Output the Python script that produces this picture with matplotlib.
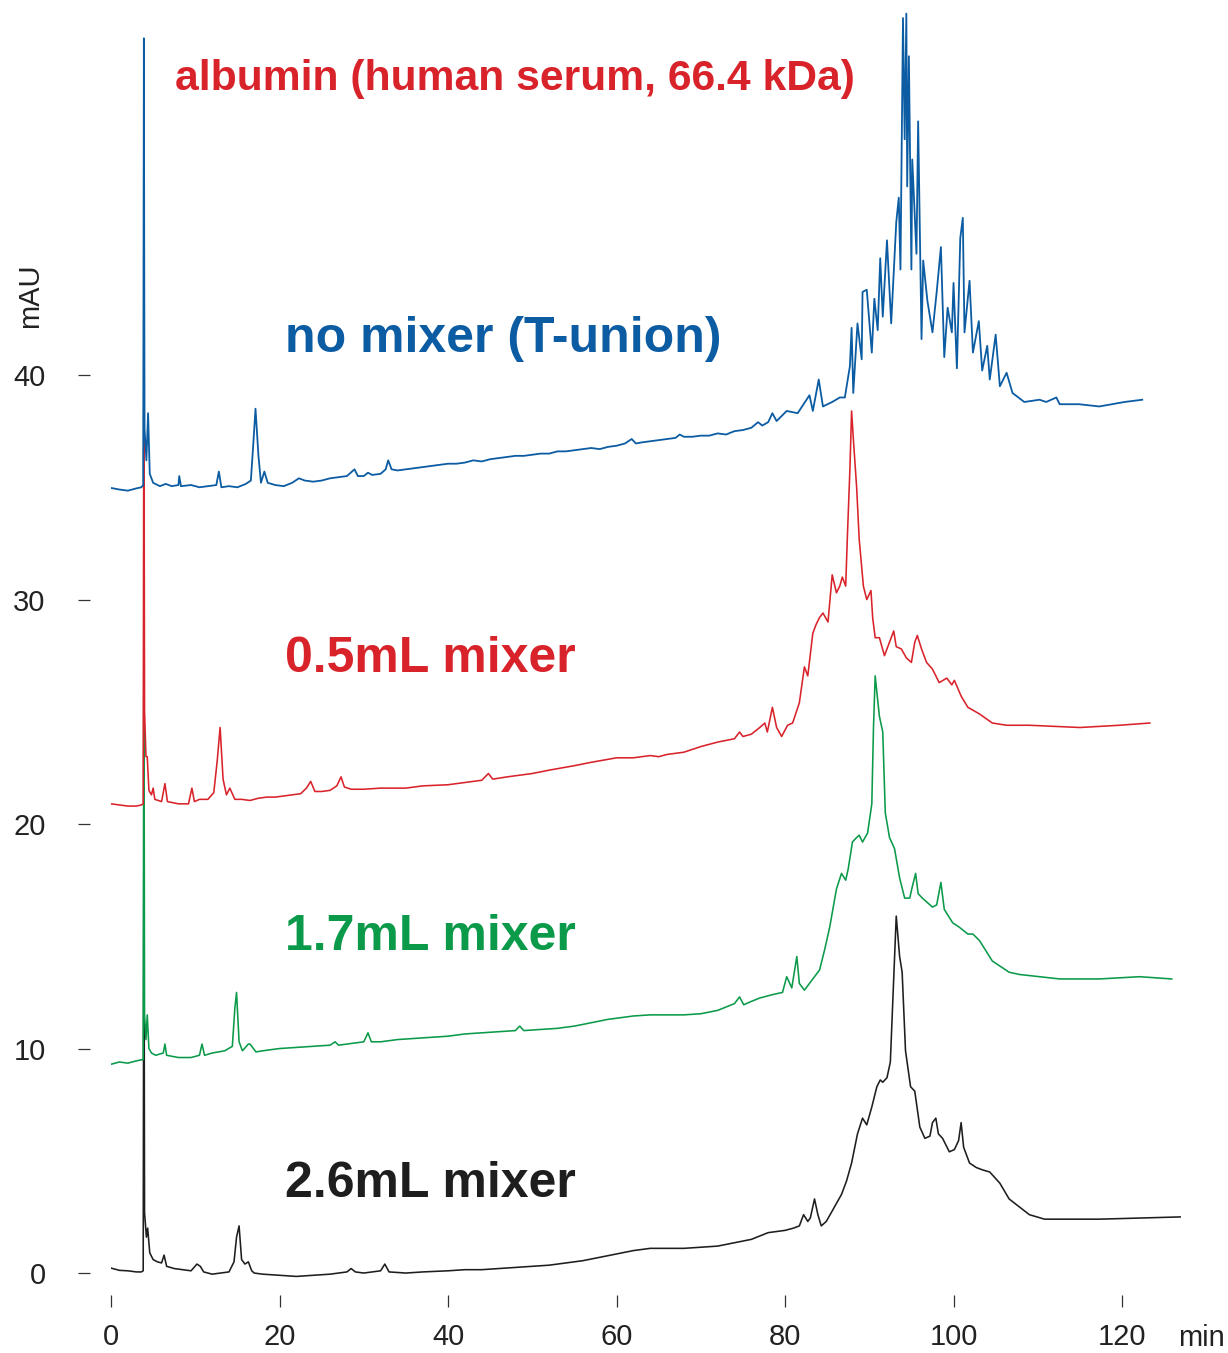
import matplotlib.pyplot as plt

plt.rcParams['font.family'] = ['Liberation Sans', 'DejaVu Sans']

# chromatogram traces (time in min, signal in mAU)
t_none = [0, 1, 2, 3, 3.6, 3.82, 3.9, 3.98, 4.2, 4.4, 4.6, 5.0, 5.8, 6.5, 7.2, 8.0, 8.1, 8.3, 9.5,
          10.5, 11.5, 12.5, 12.8, 13.1, 14, 15, 16.0, 16.6, 16.9, 17.15, 17.5, 17.8, 18.2, 18.6, 19.5,
          20.5, 21.5, 22.3, 23, 24, 25, 26, 27, 28, 28.9, 29.3, 30, 30.5, 31, 32, 32.6, 32.9, 33.3,
          34, 35, 36, 37, 38, 39, 40, 41, 42, 43, 44, 45, 46, 47, 48, 49, 50, 51, 52, 53, 54, 55, 56,
          57, 58, 59, 60, 61, 61.8, 62.3, 63, 64, 65, 66, 67, 67.5, 68, 69, 70, 71, 72, 73, 74, 75,
          76, 76.8, 77.3, 78, 78.5, 79, 79.4, 80.2, 81.5, 82.9, 83.3, 84.0, 84.5, 85.6, 86.5, 87.1,
          87.7, 87.9, 88.1, 88.6, 89.1, 89.2, 89.7, 90.3, 90.6, 91.0, 91.3, 91.6, 92.1, 92.6, 93.2,
          93.5, 93.7, 94.0, 94.2, 94.4, 94.5, 94.7, 95.0, 95.1, 95.6, 95.8, 96.2, 96.4, 96.9, 97.5,
          98.0, 98.5, 98.9, 99.3, 99.8, 100.0, 100.4, 100.8, 101.1, 101.3, 101.9, 102.3, 103.0,
          103.4, 104.0, 104.3, 105.0, 105.5, 106.3, 107.0, 108.4, 110.2, 111.0, 112.2, 112.6,
          114.9, 117.3, 120.3, 122.4]
v_none = [34.97, 34.9, 34.85, 34.95, 35.0, 35.1, 55.0, 37.6, 36.2, 38.3, 35.6, 35.2, 35.05, 35.15,
          35.05, 35.1, 35.5, 35.05, 35.1, 35.0, 35.05, 35.1, 35.7, 35.0, 35.05, 35.0, 35.15, 35.3,
          37.0, 38.5, 36.4, 35.2, 35.7, 35.2, 35.1, 35.05, 35.2, 35.4, 35.3, 35.25, 35.3, 35.4,
          35.45, 35.5, 35.8, 35.5, 35.5, 35.65, 35.55, 35.6, 35.8, 36.2, 35.8, 35.75, 35.8, 35.85,
          35.9, 35.95, 36.0, 36.05, 36.05, 36.1, 36.2, 36.15, 36.25, 36.3, 36.35, 36.4, 36.4,
          36.45, 36.5, 36.5, 36.6, 36.6, 36.65, 36.7, 36.75, 36.7, 36.8, 36.85, 36.95, 37.15,
          36.95, 37.0, 37.05, 37.1, 37.15, 37.2, 37.35, 37.25, 37.25, 37.3, 37.3, 37.4, 37.35,
          37.5, 37.55, 37.65, 37.9, 37.75, 37.9, 38.3, 37.95, 38.1, 38.4, 38.3, 39.1, 38.4, 39.8,
          38.6, 38.8, 39.0, 39.0, 40.4, 42.1, 39.2, 42.3, 40.7, 43.7, 43.8, 41.0, 43.4, 42.0, 45.2,
          42.6, 46.0, 42.3, 46.8, 47.9, 44.7, 55.9, 50.5, 56.1, 48.4, 54.2, 44.7, 49.6, 45.4, 51.3,
          41.6, 45.1, 43.3, 41.9, 43.7, 45.7, 40.8, 43.0, 41.9, 44.1, 40.3, 46.1, 47.0, 41.9, 44.2,
          41.0, 42.4, 40.2, 41.3, 39.8, 41.8, 39.5, 40.1, 39.2, 38.8, 38.9, 38.8, 39.0, 38.7, 38.7,
          38.6, 38.8, 38.9]

t_05 = [0, 1, 2, 3, 3.6, 3.82, 3.9, 3.98, 4.15, 4.3, 4.5, 4.8, 5.0, 5.2, 6.0, 6.4, 6.7, 8, 9.2, 9.6,
        9.9, 10.5, 11.5, 12.2, 12.6, 12.95, 13.3, 13.7, 14.1, 14.7, 15.5, 16.5, 17.5, 18.5, 19.5,
        20.5, 21.5, 22.5, 23.2, 23.7, 24.2, 25, 26, 26.8, 27.3, 27.7, 28.5, 30, 32, 35, 37, 40, 42,
        44, 44.8, 45.3, 47, 50, 52, 55, 57, 60, 62, 64, 65, 66, 68, 70, 72, 74, 74.6, 75, 76, 77.0,
        77.6, 77.9, 78.5, 79.0, 79.6, 80.3, 80.9, 81.7, 82.3, 82.7, 83.3, 83.7, 84.1, 84.5, 85.1,
        85.6, 86.1, 86.5, 86.8, 87.2, 87.4, 87.7, 87.9, 88.1, 88.5, 88.8, 89.3, 89.7, 90.2, 90.4,
        90.7, 91.2, 91.8, 92.2, 92.6, 92.9, 93.2, 93.8, 94.4, 95.0, 95.4, 95.7, 96.2, 96.8, 97.5,
        98.3, 99.2, 99.8, 100.1, 100.9, 101.7, 103.1, 104.6, 106.3, 109.0, 115.0, 119.7, 123.3]
v_05 = [20.9, 20.85, 20.8, 20.8, 20.85, 20.9, 41.4, 25.0, 23.0, 23.0, 21.5, 21.3, 21.6, 21.1, 21.0,
        21.8, 21.0, 20.9, 20.9, 21.6, 21.0, 21.1, 21.1, 21.4, 22.8, 24.3, 22.0, 21.3, 21.6, 21.1,
        21.1, 21.05, 21.15, 21.2, 21.2, 21.25, 21.3, 21.35, 21.6, 21.9, 21.45, 21.45, 21.5, 21.7,
        22.1, 21.65, 21.55, 21.55, 21.6, 21.6, 21.7, 21.75, 21.85, 21.95, 22.25, 22.0, 22.1, 22.25,
        22.4, 22.6, 22.75, 22.95, 22.95, 23.05, 23.0, 23.1, 23.2, 23.45, 23.65, 23.8, 24.1, 23.9,
        24.0, 24.3, 24.5, 24.1, 25.2, 24.3, 23.9, 24.4, 24.5, 25.4, 27.0, 26.6, 28.5, 28.9, 29.2,
        29.4, 29.0, 31.1, 30.3, 30.6, 31.0, 30.6, 32.8, 35.8, 38.4, 37.2, 35.0, 32.7, 30.6, 30.0,
        30.4, 29.2, 28.3, 28.3, 27.5, 27.9, 28.3, 28.6, 27.9, 27.8, 27.4, 27.2, 28.1, 28.4, 27.8,
        27.2, 26.9, 26.3, 26.5, 26.2, 26.4, 25.7, 25.2, 24.9, 24.5, 24.4, 24.4, 24.3, 24.4, 24.5]

t_17 = [0, 1, 2, 3, 3.6, 3.82, 3.9, 3.98, 4.15, 4.3, 4.5, 4.8, 5.3, 6.2, 6.4, 6.6, 8, 9.5, 10.5, 10.8,
        11.1, 12, 13.5, 14.4, 14.7, 14.9, 15.2, 15.6, 16.3, 16.5, 17.2, 18, 20, 22, 24, 26, 26.6,
        27, 28, 30, 30.5, 30.9, 32, 34, 36, 38, 40, 42, 44, 46, 48, 48.5, 49, 51, 53, 55, 57, 59, 60,
        62, 64, 66, 68, 70, 72, 73, 74, 74.6, 75.1, 76, 77.0, 78.5, 79.7, 80.2, 80.8, 81.4, 81.7,
        82.3, 83.3, 84.1, 84.7, 85.3, 86.1, 86.7, 87.2, 87.5, 88.0, 88.5, 88.8, 89.2, 89.8, 90.3,
        90.5, 90.7, 91.2, 91.6, 91.9, 92.4, 93.0, 93.6, 94.2, 94.8, 95.1, 95.5, 95.8, 96.3, 97.5,
        98.0, 98.5, 98.9, 99.9, 100.7, 101.7, 102.3, 103.1, 104.6, 106.6, 107.8, 112.6, 117.3,
        122.1, 125.9]
v_17 = [9.3, 9.4, 9.35, 9.45, 9.5, 9.5, 29.5, 11.5, 10.4, 11.5, 10.0, 9.8, 9.7, 9.8, 10.2, 9.7, 9.6,
        9.6, 9.7, 10.2, 9.7, 9.8, 9.9, 10.1, 11.8, 12.5, 10.3, 9.9, 10.2, 10.2, 9.85, 9.9, 10.0,
        10.05, 10.1, 10.15, 10.3, 10.15, 10.2, 10.3, 10.7, 10.3, 10.3, 10.4, 10.45, 10.5, 10.55,
        10.65, 10.7, 10.75, 10.8, 11.0, 10.8, 10.85, 10.9, 11.0, 11.15, 11.3, 11.35, 11.45, 11.5,
        11.5, 11.5, 11.55, 11.7, 11.85, 12.0, 12.3, 11.95, 12.1, 12.25, 12.4, 12.5, 13.2, 12.7,
        14.1, 12.9, 12.6, 13.1, 13.5, 14.4, 15.4, 17.1, 17.8, 17.5, 18.0, 19.2, 19.4, 19.5, 19.2,
        19.6, 20.9, 24.3, 26.6, 24.8, 24.1, 20.5, 19.4, 18.9, 17.6, 16.7, 16.7, 17.2, 17.8, 16.9,
        16.7, 16.3, 16.4, 17.4, 16.2, 15.6, 15.4, 15.1, 15.1, 14.8, 13.9, 13.4, 13.3, 13.1, 13.1,
        13.2, 13.1]

t_26 = [0, 1, 2, 3, 3.6, 3.82, 3.9, 3.98, 4.2, 4.35, 4.6, 5.0, 5.5, 6.0, 6.3, 6.6, 7.5, 8.5, 9.5,
        10.2, 10.6, 11.0, 12, 13, 14, 14.6, 14.9, 15.2, 15.5, 15.9, 16.3, 16.7, 17, 18, 20, 22, 24,
        26, 28, 28.5, 29, 30, 32, 32.5, 33, 35, 37, 40, 42, 44, 46, 48, 50, 52, 54, 56, 58, 60, 62,
        64, 66, 68, 70, 72, 74, 76, 77, 78, 79, 80, 81, 81.7, 82.2, 82.7, 83.0, 83.5, 83.9, 84.3,
        84.9, 85.5, 86.1, 86.7, 87.3, 87.9, 88.6, 89.2, 89.7, 90.3, 90.9, 91.3, 91.6, 92.1, 92.5,
        92.8, 93.2, 93.6, 93.9, 94.3, 94.9, 95.4, 96.0, 96.6, 97.2, 97.5, 97.9, 98.2, 98.7, 99.5,
        100.1, 100.6, 100.9, 101.2, 101.9, 102.7, 103.4, 104.3, 105.5, 106.6, 109.0, 110.8, 113.8,
        117.3, 122.1, 126.9]
v_26 = [0.22, 0.12, 0.1, 0.05, 0.05, 0.1, 20.0, 2.7, 1.6, 2.0, 0.9, 0.6, 0.5, 0.45, 0.8, 0.3, 0.2,
        0.15, 0.1, 0.4, 0.3, 0.05, -0.05, 0.0, 0.05, 0.5, 1.6, 2.1, 0.6, 0.4, 0.5, 0.1, 0.0, -0.05,
        -0.1, -0.15, -0.1, -0.05, 0.05, 0.2, 0.05, 0.0, 0.1, 0.4, 0.05, 0.0, 0.05, 0.1, 0.15, 0.15,
        0.2, 0.25, 0.3, 0.35, 0.45, 0.55, 0.7, 0.85, 1.0, 1.1, 1.1, 1.1, 1.15, 1.2, 1.35, 1.5, 1.65,
        1.8, 1.85, 1.9, 2.0, 2.1, 2.6, 2.3, 2.45, 3.3, 2.6, 2.1, 2.3, 2.7, 3.1, 3.5, 4.1, 4.9, 6.2,
        6.9, 6.6, 7.4, 8.3, 8.6, 8.5, 8.7, 9.4, 12.2, 15.9, 14.1, 13.4, 9.9, 8.3, 8.1, 6.5, 6.0,
        6.1, 6.7, 6.9, 6.2, 6.0, 5.4, 5.5, 5.9, 6.7, 5.6, 4.9, 4.7, 4.6, 4.5, 4.0, 3.3, 2.6, 2.4,
        2.4, 2.4, 2.45, 2.5]

labels = ['no mixer (T-union)', '0.5mL mixer', '1.7mL mixer', '2.6mL mixer']
colors = ['#0b5ca3', '#d9232b', '#0b9a4a', '#1e1e1e']
xticks = [0, 20, 40, 60, 80, 100, 120]
yticks = [0, 10, 20, 30, 40]

fig = plt.figure(figsize=(12.28, 13.53), dpi=100)
ax = fig.add_axes([0.0904, 0.0425, 0.8782, 0.9541])

# black first so the blue trace sits on top of the injection spike
ax.plot(t_26, v_26, color=colors[3], lw=1.15)
ax.plot(t_17, v_17, color=colors[2], lw=1.15)
ax.plot(t_05, v_05, color=colors[1], lw=1.15)
ax.plot(t_none, v_none, color=colors[0], lw=1.3)

ax.set_xlim(0, 128)
ax.set_ylim(-1, 56.5)
ax.set_xticks(xticks)
ax.set_yticks(yticks)

for side in ['top', 'right']:
    ax.spines[side].set_visible(False)
ax.spines['left'].set_color('none')
ax.spines['bottom'].set_color('none')
ax.spines['left'].set_position(('outward', 15))
ax.tick_params(axis='y', direction='out', length=9, width=0.9, color='#333333',
               labelsize=21, pad=23, labelcolor='#222222')
ax.tick_params(axis='x', direction='out', length=8.5, width=0.9, color='#333333',
               labelsize=21, pad=11, labelcolor='#222222')

fig.text(30 / 1228, 1 - 296 / 1353, 'mAU', rotation=90, ha='center', va='center',
         fontsize=21, color='#222222')
fig.text(1178 / 1228, 7 / 1353, 'min', ha='left', va='baseline', fontsize=21, color='#222222')

ax.text(7.6, 53.2, 'albumin (human serum, 66.4 kDa)', color=colors[1], fontsize=30.7,
        fontweight='bold', va='center', ha='left')
label_y = [41.6, 27.35, 14.95, 3.95]
for lab, col, ly in zip(labels, colors, label_y):
    ax.text(20.6, ly, lab, color=col, fontsize=36, fontweight='bold', va='center', ha='left')

fig.savefig('out.png', dpi=100)
